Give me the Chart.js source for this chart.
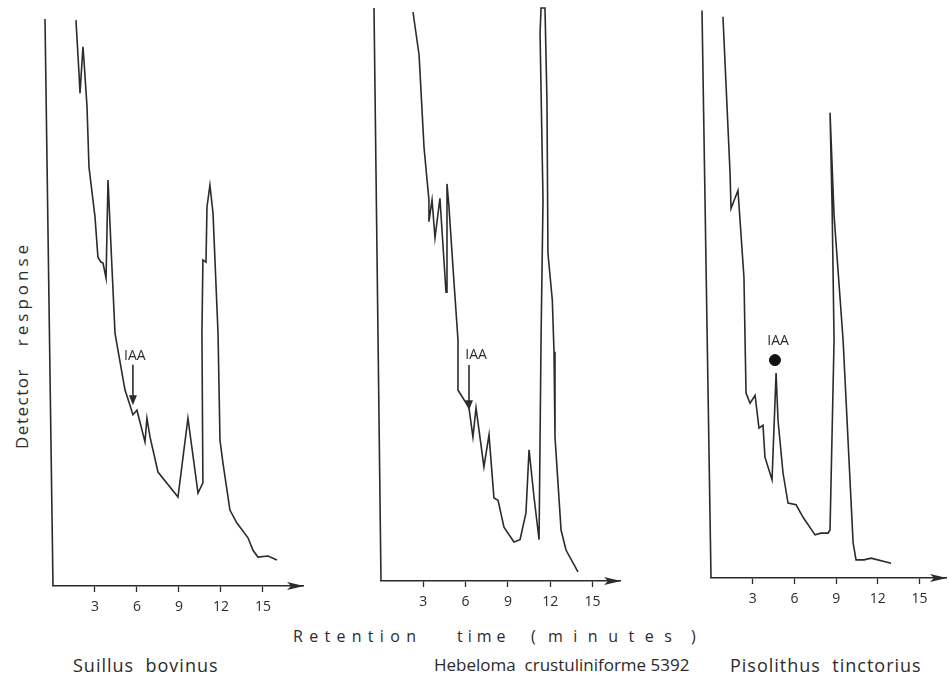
<!DOCTYPE html>
<html>
<head>
<meta charset="utf-8">
<script src="https://cdn.jsdelivr.net/npm/chart.js@4.4.1/dist/chart.umd.min.js"></script>
<style>
  html, body { margin: 0; padding: 0; background: #fff; }
  #page { position: relative; width: 949px; height: 679px; overflow: hidden;
          font-family: "Open Sans", "DejaVu Sans", sans-serif; color: #2b2b2b; }
  .panel { position: absolute; }
  .lbl { position: absolute; white-space: pre; line-height: 1; }
  #ylab { left: 13px; top: 449px; font-size: 17px;
          transform-origin: 0 0; transform: rotate(-90deg); }
  .xw { top: 628px; font-size: 16px; }
  .species { top: 656px; font-size: 18px; letter-spacing: 1px; }
</style>
</head>
<body>
<div id="page">
  <div class="panel" id="p1"><canvas id="c1"></canvas></div>
  <div class="panel" id="p2"><canvas id="c2"></canvas></div>
  <div class="panel" id="p3"><canvas id="c3"></canvas></div>

  <div class="lbl" id="ylab"><span style="letter-spacing:1.5px">Detector</span><span style="margin-left:22px;letter-spacing:4px">response</span></div>

  <div class="lbl xw" style="left:293px;letter-spacing:6.3px">Retention</div>
  <div class="lbl xw" style="left:457px;letter-spacing:5px">time</div>
  <div class="lbl xw" style="left:531px">(</div>
  <div class="lbl xw" style="left:548px;letter-spacing:10.5px">minutes</div>
  <div class="lbl xw" style="left:691px">)</div>

  <div class="lbl species" style="left:73px">Suillus  bovinus</div>
  <div class="lbl species" style="left:434px;font-size:17px;letter-spacing:0">Hebeloma  crustuliniforme 5392</div>
  <div class="lbl species" style="left:730px">Pisolithus  tinctorius</div>
</div>

<script>
// retention time (minutes) and detector response (% of full scale)
const suillusTime = [1.64, 1.86, 1.93, 2.14, 2.21, 2.43, 2.57, 3.0, 3.21, 3.43, 3.57, 3.79, 3.93, 4.0, 4.21, 4.43,
  4.64, 5.14, 5.5, 5.71, 6.0, 6.57, 6.71, 6.93, 7.5, 8.93, 9.64, 10.36, 10.71, 10.64, 10.71, 10.93, 11.0, 11.21,
  11.43, 11.79, 11.93, 12.14, 12.64, 13.14, 13.93, 14.29, 14.64, 15.36, 16.0];
const suillusResp = [99.8, 90.3, 86.9, 95.1, 92.8, 84.5, 73.9, 65.1, 58.0, 57.1, 57.0, 54.3, 71.6, 71.6, 56.3, 44.6,
  41.6, 34.6, 31.9, 30.2, 31.0, 25.4, 29.6, 26.3, 20.1, 15.7, 29.6, 16.4, 18.2, 44.6, 57.5, 57.1, 66.8, 70.7,
  65.8, 44.6, 25.7, 21.7, 13.4, 11.1, 8.5, 6.3, 5.1, 5.3, 4.6];

const hebelomaTime = [2.27, 2.70, 3.05, 3.40, 3.40, 3.62, 3.83, 4.18, 4.61, 4.68, 4.82, 5.18, 5.46, 5.46, 5.67,
  6.24, 6.52, 6.74, 7.30, 7.66, 8.01, 8.30, 8.72, 9.43, 9.86, 10.28, 10.50, 10.85, 11.21, 11.35, 11.49, 11.28,
  11.35, 11.63, 11.77, 11.84, 12.15, 12.27, 12.34, 12.77, 13.12, 13.97];
const hebelomaResp = [99.3, 91.8, 75.7, 66.5, 62.7, 66.5, 59.9, 66.8, 50.4, 69.3, 65.3, 52.0, 42.1, 33.3, 32.5,
  30.2, 25.1, 30.2, 19.9, 25.5, 14.5, 14.1, 9.4, 6.8, 7.2, 11.9, 22.9, 14.7, 7.2, 42.1, 66.5, 95.6,
  100, 100, 83.9, 57.2, 49.0, 40.0, 25.1, 8.9, 5.4, 1.6];

const pisolithusTime = [0.86, 1.37, 1.44, 1.94, 2.37, 2.45, 2.52, 2.81, 3.17, 3.45, 3.74, 3.88, 4.39, 4.68, 4.82,
  5.18, 5.54, 6.12, 6.62, 7.48, 7.91, 8.42, 8.56, 8.85, 8.71, 8.56, 8.85, 9.50, 10.22, 10.43, 11.0, 11.51, 12.95];
const pisolithusResp = [98.9, 71.3, 65.1, 68.3, 53.0, 41.9, 32.6, 30.8, 32.2, 26.4, 26.9, 21.3, 17.3, 36.1, 27.8,
  18.5, 13.2, 12.9, 10.7, 7.6, 7.9, 7.9, 8.5, 41.9, 65.3, 82.0, 63.9, 41.9, 6.2, 3.2, 3.2, 3.5, 2.6];

const tickMinutes = [3, 6, 9, 12, 15];

const ink = '#2b2b2b';
Chart.defaults.font.family = '"Open Sans", "DejaVu Sans", sans-serif';
Chart.defaults.color = ink;

// slanted response axis, arrow head on the time axis, IAA marker
const decorations = {
  id: 'decorations',
  afterDatasetsDraw(chart, args, opts) {
    const { ctx, chartArea: a, scales: { x, y } } = chart;
    ctx.save();
    ctx.fillStyle = ink;
    ctx.strokeStyle = ink;
    ctx.lineWidth = 1.6;

    ctx.beginPath();
    ctx.moveTo(a.left - opts.lean, a.top);
    ctx.lineTo(a.left, a.bottom);
    ctx.stroke();

    ctx.beginPath();
    ctx.moveTo(a.right + 1, a.bottom);
    ctx.lineTo(a.right - 16, a.bottom - 4);
    ctx.lineTo(a.right - 12, a.bottom);
    ctx.lineTo(a.right - 16, a.bottom + 4);
    ctx.closePath();
    ctx.fill();

    if (opts.arrow) {
      const px = x.getPixelForValue(opts.arrow.time);
      const y0 = y.getPixelForValue(opts.arrow.from);
      const y1 = y.getPixelForValue(opts.arrow.to);
      ctx.beginPath();
      ctx.moveTo(px, y0);
      ctx.lineTo(px, y1 - 6);
      ctx.stroke();
      ctx.beginPath();
      ctx.moveTo(px, y1);
      ctx.lineTo(px - 4, y1 - 10);
      ctx.lineTo(px + 4, y1 - 10);
      ctx.closePath();
      ctx.fill();
    }
    if (opts.label) {
      ctx.font = '14px "Open Sans", "DejaVu Sans", sans-serif';
      ctx.textAlign = 'center';
      ctx.textBaseline = 'middle';
      ctx.fillText('IAA', x.getPixelForValue(opts.label.time), y.getPixelForValue(opts.label.resp));
    }
    ctx.restore();
  }
};

function makePanel(id, box, times, resps, marks) {
  // box: axis origin, axis top, arrow tip (page pixels), axis length in minutes
  const padL = 14, padT = 6, padR = 10, axisH = 30;
  const holder = document.getElementById(id);
  const w = box.tip - box.left + padL + padR;
  const h = box.bottom - box.top + padT + axisH;
  holder.style.left = (box.left - padL) + 'px';
  holder.style.top = (box.top - padT) + 'px';
  holder.style.width = w + 'px';
  holder.style.height = h + 'px';

  const datasets = [{
    data: times.map((t, i) => ({ x: t, y: resps[i] })),
    showLine: true,
    borderColor: ink,
    borderWidth: 1.6,
    pointRadius: 0,
    tension: 0,
    clip: 4
  }];
  if (marks.dot) {
    datasets.push({
      data: [marks.dot],
      pointRadius: 5.5,
      pointBackgroundColor: '#111',
      pointBorderColor: '#111',
      showLine: false
    });
  }

  return new Chart(holder.querySelector('canvas'), {
    type: 'scatter',
    data: { datasets },
    options: {
      responsive: true,
      maintainAspectRatio: false,
      animation: false,
      layout: { padding: { left: padL, top: padT, right: padR, bottom: 0 } },
      plugins: {
        legend: { display: false },
        tooltip: { enabled: false },
        decorations: marks
      },
      scales: {
        x: {
          type: 'linear',
          min: 0,
          max: box.maxMin,
          afterBuildTicks: s => { s.ticks = tickMinutes.map(v => ({ value: v })); },
          afterFit: s => { s.height = axisH; },
          grid: { display: true, drawOnChartArea: false, tickLength: 6, tickColor: ink, tickWidth: 1.3 },
          border: { display: true, color: ink, width: 1.6 },
          ticks: { padding: 7, font: { size: 14 }, color: ink }
        },
        y: {
          min: 0,
          max: 100,
          afterFit: s => { s.width = 0; },
          grid: { display: false },
          border: { display: false },
          ticks: { display: false }
        }
      }
    },
    plugins: [decorations]
  });
}

makePanel('p1', { left: 53, top: 19, bottom: 586, tip: 303, maxMin: 17.86 },
  suillusTime, suillusResp,
  { lean: 8, arrow: { time: 5.71, from: 39.0, to: 31.9 }, label: { time: 5.85, resp: 40.6 } });

makePanel('p2', { left: 381, top: 8, bottom: 581, tip: 620, maxMin: 16.95 },
  hebelomaTime, hebelomaResp,
  { lean: 7, arrow: { time: 6.24, from: 37.7, to: 29.8 }, label: { time: 6.74, resp: 39.4 } });

makePanel('p3', { left: 711, top: 10, bottom: 578, tip: 946, maxMin: 16.9 },
  pisolithusTime, pisolithusResp,
  { lean: 9, dot: { x: 4.60, y: 38.4 }, label: { time: 4.82, resp: 41.7 } });
</script>
</body>
</html>
